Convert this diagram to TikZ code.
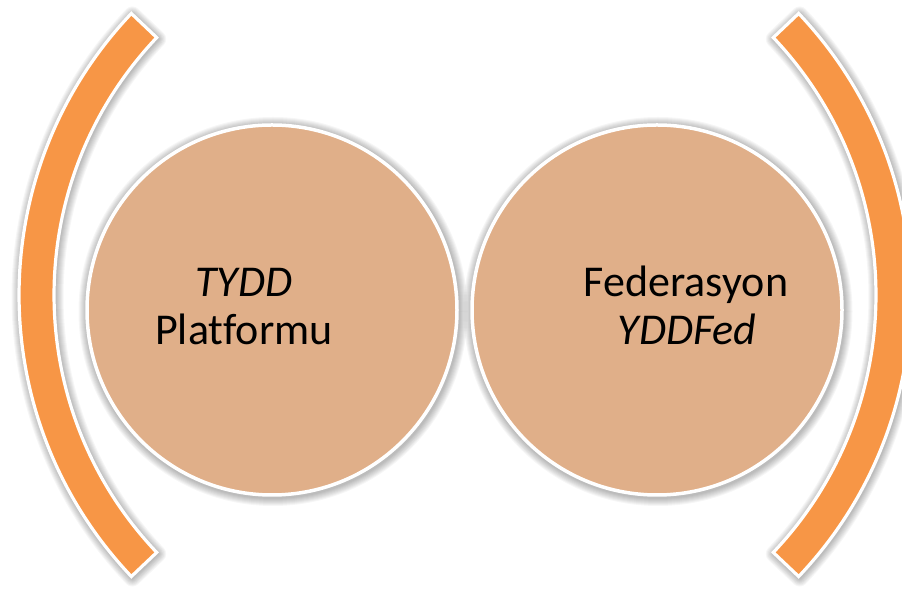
\documentclass[tikz,border=0pt]{standalone}
\usepackage{fontspec}
\setmainfont{Carlito}[Ligatures=NoCommon]
\definecolor{bandorange}{RGB}{247,150,70}
\definecolor{disctan}{RGB}{224,175,137}
\tikzset{
  bandshape/.style={fill=bandorange, draw=white, line width=3.2pt, line join=miter},
  discshape/.style={circle, minimum size=370pt, inner sep=0pt, fill=disctan, draw=white, line width=3.5pt},
  lbl/.style={anchor=base, inner sep=0pt, font=\fontsize{44}{52}\selectfont, text=black},
  halo/.style={black, opacity=0.035, line join=round}
}
\begin{document}
\begin{tikzpicture}[x=1pt,y=1pt]
\useasboundingbox (0,0) rectangle (902,593);
\fill[white] (0,0) rectangle (902,593);
% shadows
\foreach \w in {3,5,...,17}{
  \begin{scope}[shift={(429,296.5)}]
    \draw[halo, line width=\w pt] (136.5:409) arc[start angle=136.5,end angle=223.5,radius=409] -- (223.5:374) arc[start angle=223.5,end angle=136.5,radius=374] -- cycle;
  \end{scope}
  \begin{scope}[shift={(503,296.5)}]
    \draw[halo, line width=\w pt] (-43.5:409) arc[start angle=-43.5,end angle=43.5,radius=409] -- (43.5:374) arc[start angle=43.5,end angle=-43.5,radius=374] -- cycle;
  \end{scope}
  \draw[halo, line width=\w pt] (273,281.5) circle[radius=186];
  \draw[halo, line width=\w pt] (658,281.5) circle[radius=186];
}
% bands
\begin{scope}[shift={(428,298)}]
  \path[bandshape] (136.5:409) arc[start angle=136.5,end angle=223.5,radius=409] -- (223.5:374) arc[start angle=223.5,end angle=136.5,radius=374] -- cycle;
\end{scope}
\begin{scope}[shift={(502,298)}]
  \path[bandshape] (-43.5:409) arc[start angle=-43.5,end angle=43.5,radius=409] -- (43.5:374) arc[start angle=43.5,end angle=-43.5,radius=374] -- cycle;
\end{scope}
% discs
\node[discshape] (c1) at (272,283) {};
\node[discshape] (c2) at (657,283) {};
% labels
\node[lbl] (t1a) at (244,296) {\itshape TYDD};
\node[lbl] (t1b) at (244,248) {Platformu};
\node[lbl] (t2a) at (686,296) {Federasyon};
\node[lbl] (t2b) at (687,248) {\itshape YDDFed};
\end{tikzpicture}
\end{document}
